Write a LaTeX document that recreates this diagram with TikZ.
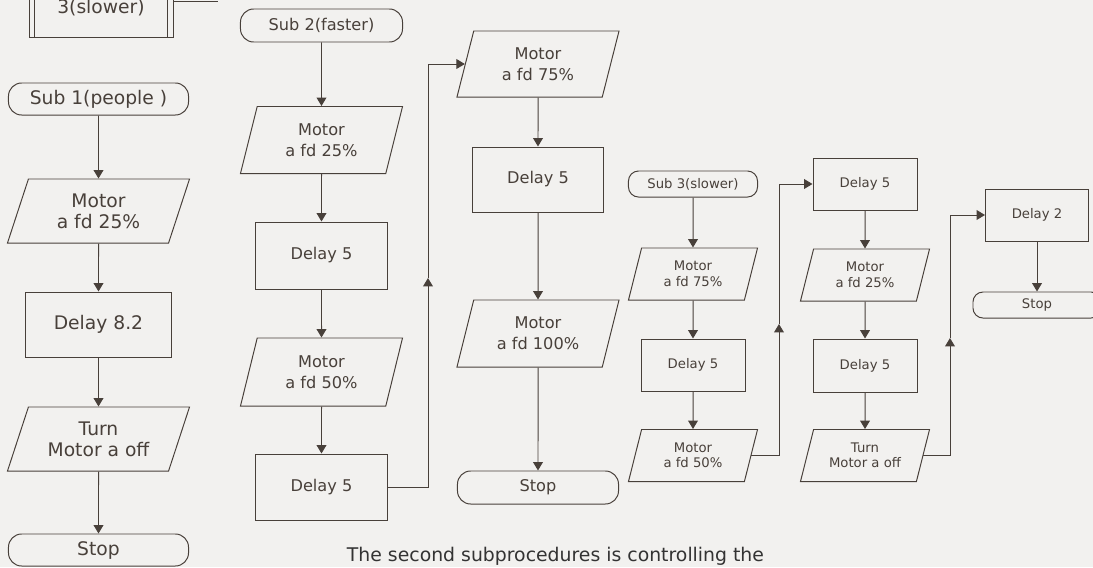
\documentclass[tikz,border=0pt]{standalone}
\usepackage{fontspec}
\setmainfont{DejaVu Sans}
\usepackage{tikz}
\usetikzlibrary{shapes.geometric}
\usetikzlibrary{arrows.meta}
\usepackage{xcolor}

\definecolor{ink}{RGB}{72,64,58}
\definecolor{paper}{RGB}{242,241,239}

\tikzset{
  box/.style={draw=ink, line width=0.7pt, text=ink, align=center, inner sep=1pt},
  term/.style={box, rectangle, rounded corners=0.33cm},
  proc/.style={box, rectangle},
  io/.style={box, trapezium, trapezium stretches body=true,
    trapezium left angle=65, trapezium right angle=115},
  flow/.style={draw=ink, line width=0.7pt, -{Triangle[width=7pt,length=6pt]}},
  line/.style={draw=ink, line width=0.7pt},
  big/.style={font=\fontsize{13.3}{15}\selectfont},
  mid/.style={font=\fontsize{11.5}{15}\selectfont},
  small/.style={font=\fontsize{9.4}{11}\selectfont}
}

\begin{document}
\begin{tikzpicture}[x=0.025cm, y=-0.025cm]
    \fill[paper] (0,0) rectangle (1093,567);
    \useasboundingbox (0,0) rectangle (1093,567);

    % sub 1
    \node[proc, minimum width=3.575cm, minimum height=1.925cm] (s1call) at (101.5,-1.5) {};
    \draw[line] ([xshift=0.125cm]s1call.north west) -- ([xshift=0.125cm]s1call.south west);
    \draw[line] ([xshift=-0.15cm]s1call.north east) -- ([xshift=-0.15cm]s1call.south east);
    \node[big, text=ink] (s1calltxt) at (101,8) {3(slower)};
    \coordinate (s1out) at (218,1.5);
    \draw[line] (s1call.east |- s1out) -- (s1out);

    \node[term, big, minimum width=4.5cm, minimum height=0.8cm] (s1start) at (98.5,99) {Sub 1(people )};
    \node[io, big, trapezium left angle=61, trapezium right angle=119,
      minimum width=4.55cm, minimum height=1.6cm] (s1motor) at (98.5,211) {Motor\\a fd 25\%};
    \node[proc, big, minimum width=3.625cm, minimum height=1.625cm] (s1delay) at (98.5,324.5) {Delay 8.2};
    \node[io, big, trapezium left angle=61, trapezium right angle=119,
      minimum width=4.55cm, minimum height=1.6cm] (s1turn) at (98.5,439) {Turn\\Motor a off};
    \node[term, big, minimum width=4.5cm, minimum height=0.8cm] (s1stop) at (98.5,550) {Stop};

    \draw[flow] (s1start) -- (s1motor);
    \draw[flow] (s1motor) -- (s1delay);
    \draw[flow] (s1delay) -- (s1turn);
    \draw[flow] (s1turn) -- (s1stop);

    % sub 2
    \node[term, mid, minimum width=4.05cm, minimum height=0.825cm] (s2start) at (321.5,25.5) {Sub 2(faster)};
    \node[io, mid, minimum width=4.05cm, minimum height=1.675cm] (s2motora) at (321.5,140) {Motor\\a fd 25\%};
    \node[proc, mid, minimum width=3.275cm, minimum height=1.675cm] (s2delaya) at (321.5,255.5) {Delay 5};
    \node[io, mid, minimum width=4.05cm, minimum height=1.7cm] (s2motorb) at (321.5,372) {Motor\\a fd 50\%};
    \node[proc, mid, minimum width=3.275cm, minimum height=1.65cm] (s2delayb) at (321.5,487) {Delay 5};

    \node[io, mid, minimum width=4.05cm, minimum height=1.65cm] (s2motorc) at (538,64) {Motor\\a fd 75\%};
    \node[proc, mid, minimum width=3.25cm, minimum height=1.625cm] (s2delayc) at (538,179.5) {Delay 5};
    \node[io, mid, minimum width=4.05cm, minimum height=1.675cm] (s2motord) at (538,333.5) {Motor\\a fd 100\%};
    \node[term, mid, minimum width=4.025cm, minimum height=0.825cm] (s2stop) at (538,487.5) {Stop};

    \draw[flow] (s2start) -- (s2motora);
    \draw[flow] (s2motora) -- (s2delaya);
    \draw[flow] (s2delaya) -- (s2motorb);
    \draw[flow] (s2motorb) -- (s2delayb);
    \coordinate (s2up) at (428,278);
    \draw[flow] (s2delayb.east) -| (s2up);
    \draw[flow] (s2up) |- (s2motorc);
    \draw[flow] (s2motorc) -- (s2delayc);
    \draw[flow] (s2delayc) -- (s2motord);
    \draw[flow] (s2motord) -- (s2stop);

    % sub 3
    \node[term, small, rounded corners=0.25cm, minimum width=3.225cm, minimum height=0.65cm] (s3start) at (693,184) {Sub 3(slower)};
    \node[io, small, minimum width=3.225cm, minimum height=1.3cm] (s3motora) at (693,274) {Motor\\a fd 75\%};
    \node[proc, small, minimum width=2.6cm, minimum height=1.3cm] (s3delaya) at (693,365) {Delay 5};
    \node[io, small, minimum width=3.225cm, minimum height=1.3cm] (s3motorb) at (693,455.5) {Motor\\a fd 50\%};

    \node[proc, small, minimum width=2.6cm, minimum height=1.3cm] (s3delayb) at (865,184) {Delay 5};
    \node[io, small, minimum width=3.225cm, minimum height=1.3cm] (s3motorc) at (865,275) {Motor\\a fd 25\%};
    \node[proc, small, minimum width=2.6cm, minimum height=1.325cm] (s3delayc) at (865,365.5) {Delay 5};
    \node[io, small, minimum width=3.225cm, minimum height=1.3cm] (s3turn) at (865,455.5) {Turn\\Motor a off};

    \node[proc, small, minimum width=2.575cm, minimum height=1.3cm] (s3delayd) at (1037,215) {Delay 2};
    \node[term, small, rounded corners=0.25cm, minimum width=3.2cm, minimum height=0.65cm] (s3stop) at (1037,305) {Stop};

    \draw[flow] (s3start) -- (s3motora);
    \draw[flow] (s3motora) -- (s3delaya);
    \draw[flow] (s3delaya) -- (s3motorb);
    \coordinate (s3upa) at (779,324);
    \draw[flow] (s3motorb) -| (s3upa);
    \draw[flow] (s3upa) |- (s3delayb);
    \draw[flow] (s3delayb) -- (s3motorc);
    \draw[flow] (s3motorc) -- (s3delayc);
    \draw[flow] (s3delayc) -- (s3turn);
    \coordinate (s3upb) at (950,338);
    \draw[flow] (s3turn) -| (s3upb);
    \draw[flow] (s3upb) |- (s3delayd);
    \draw[flow] (s3delayd) -- (s3stop);

    \node[anchor=base west, text=black!80, font=\fontsize{13.4}{16}\selectfont] (caption) at (342,561)
      {The second subprocedures is controlling the};
\end{tikzpicture}
\end{document}
